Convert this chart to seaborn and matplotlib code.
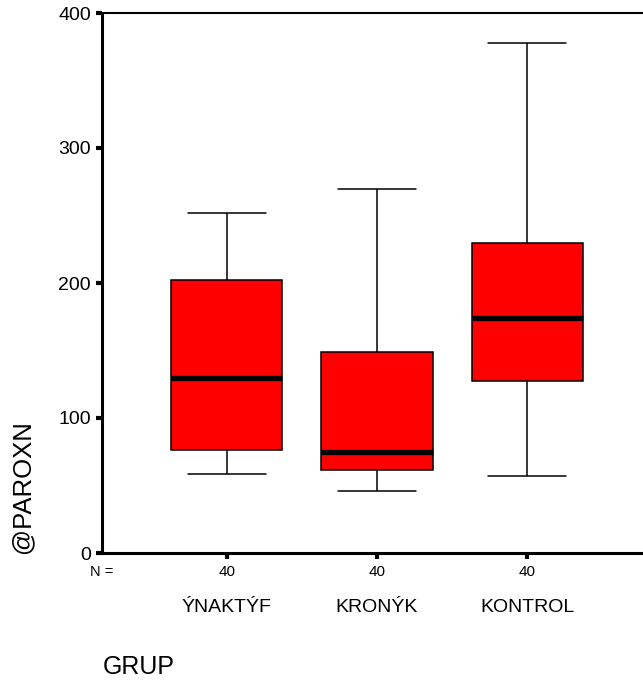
import numpy as np
import pandas as pd
import matplotlib
matplotlib.use("Agg")
import matplotlib.pyplot as plt
import matplotlib.transforms as mtransforms
import seaborn as sns

# Groups and their five-number summaries (min, Q1, median, Q3, max) of @PAROXN
groups = ["ÝNAKTÝF", "KRONÝK", "KONTROL"]
n_per_group = [40, 40, 40]
lower_whisker = [58.5, 46.0, 57.0]
q1 = [76.5, 61.5, 127.5]
median = [129.5, 75.0, 174.0]
q3 = [202.0, 149.0, 230.0]
upper_whisker = [252.0, 270.0, 377.5]

rows = []
for g, lo, a, m, b, hi in zip(groups, lower_whisker, q1, median, q3, upper_whisker):
    for v in (lo, a, m, b, hi):
        rows.append({"GRUP": g, "@PAROXN": v})
df = pd.DataFrame(rows)

sns.set_theme(style="white")
plt.rcParams["font.family"] = ["Liberation Sans", "DejaVu Sans"]
plt.rcParams["text.color"] = "black"
plt.rcParams["xtick.color"] = "black"
plt.rcParams["ytick.color"] = "black"
plt.rcParams["xtick.labelcolor"] = "black"
plt.rcParams["ytick.labelcolor"] = "black"

W, H, DPI = 643, 681, 100
fig = plt.figure(figsize=(W / DPI, H / DPI), dpi=DPI)

# axes frame: left spine at x=102 px, top at 13 px, bottom at 553 px; right edge runs off the figure
left_px, top_px, bottom_px, right_px = 102, 13, 553, 652
ax = fig.add_axes([left_px / W, 1 - bottom_px / H, (right_px - left_px) / W, (bottom_px - top_px) / H])

sns.boxplot(
    data=df, x="GRUP", y="@PAROXN", order=groups, ax=ax,
    color="#ff0000", saturation=1, width=0.74, whis=(0, 100),
    linecolor="black", linewidth=1.1,
    medianprops=dict(color="black", linewidth=3.8),
    capwidths=0.52,
)

ax.set_xlim(-0.833, 2.833)
ax.set_ylim(0, 400)
ax.set_yticks([0, 100, 200, 300, 400])
ax.set_xticks(range(len(groups)))
ax.set_xticklabels([str(n) for n in n_per_group], fontsize=11, color="black")
ax.tick_params(axis="y", labelsize=14, length=4, width=3, direction="out", color="black",
               labelcolor="black", pad=4, left=True)
ax.tick_params(axis="x", length=4, width=3, direction="out", color="black",
               labelcolor="black", pad=5, bottom=True)
ax.set_xlabel("")
ax.set_ylabel("")

for side in ["left", "bottom"]:
    ax.spines[side].set_linewidth(2.2)
    ax.spines[side].set_color("black")
ax.spines["top"].set_linewidth(1.5)
ax.spines["top"].set_color("black")
ax.spines["right"].set_visible(False)

# category names below the counts
trans = mtransforms.blended_transform_factory(ax.transData, fig.transFigure)
for i, g in enumerate(groups):
    ax.text(i, 1 - 607 / H, g, transform=trans, ha="center", va="center",
            fontsize=14, color="black")

fig.text(102 / W, 1 - 572 / H, "N =", ha="center", va="center", fontsize=10.5, color="black")
fig.text(103 / W, 1 - 667 / H, "GRUP", ha="left", va="center", fontsize=18, color="black")
fig.text(22 / W, 1 - 553 / H, "@PAROXN", rotation=90, ha="center", va="bottom",
         fontsize=18.5, color="black")

fig.savefig("out.png", dpi=DPI)
